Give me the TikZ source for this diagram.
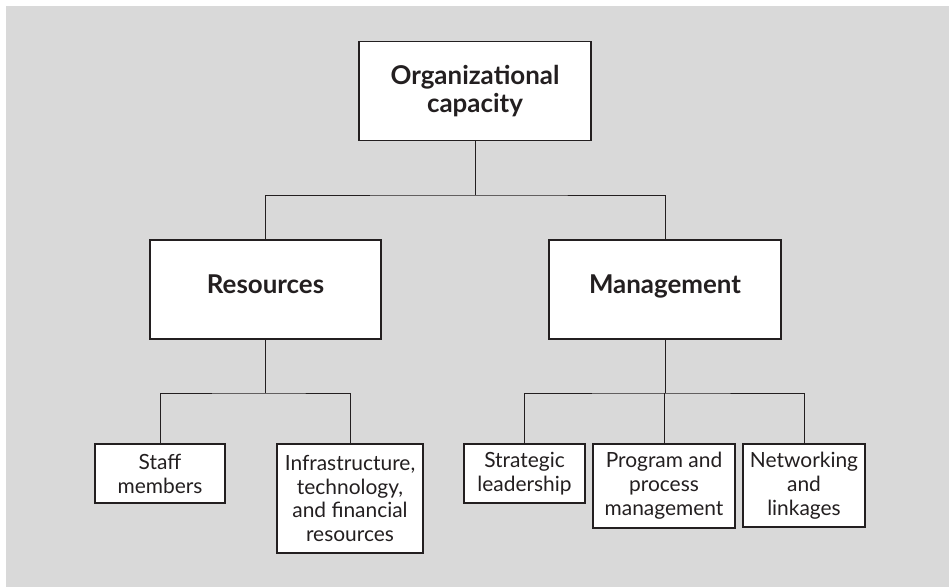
\documentclass[tikz,border=0pt]{standalone}
\usepackage{fontspec}
\setmainfont{Lato}
\definecolor{bggray}{HTML}{D9D9D9}
\definecolor{ink}{HTML}{231F20}

\begin{document}
\begin{tikzpicture}[x=1bp,y=-1bp,
  box/.style={draw=ink, line width=1.2, fill=white, align=center, inner sep=0pt, text=ink},
  headbox/.style={box, font=\fontsize{26}{27.5}\selectfont\bfseries, minimum width=232bp, minimum height=99bp},
  oneline/.style={text height=0.9em, text depth=0.1em},
  leafbox/.style={box, font=\fontsize{21}{24}\selectfont},
  link/.style={draw=ink, line width=1}]
\useasboundingbox (0,0) rectangle (949,587);
\fill[bggray] (6,6) rectangle (949,587);

\node[headbox] (org) at (475,91) {Organizational\\capacity};
\node[headbox, oneline, minimum width=231bp] (res) at (265.5,289.5) {Resources};
\node[headbox, oneline] (mgt) at (665,289.5) {Management};
\node[leafbox, minimum width=130bp, minimum height=59bp] (staff) at (160,473.5) {Staff\\members};
\node[leafbox, minimum width=146bp, minimum height=109bp] (infra) at (350,498.5) {Infrastructure,\\technology,\\and financial\\resources};
\node[leafbox, minimum width=121bp, minimum height=59bp] (lead) at (524.5,473.5) {Strategic\\leadership};
\node[leafbox, minimum width=142bp, minimum height=84bp] (prog) at (664,486) {Program and\\process\\management};
\node[leafbox, minimum width=122bp, minimum height=83bp] (net) at (804,485.5) {Networking\\and\\linkages};

\coordinate (bus1) at (472,195);
\coordinate (bus2) at (262,393);
\coordinate (bus3) at (658,393);
\draw[link] (org.south) -- (org.south |- bus1);
\draw[link] (res.north) |- (bus1) -| (mgt.north);
\draw[link] (res.south) -- (res.south |- bus2);
\draw[link] (staff.north) |- (bus2) -| (infra.north);
\draw[link] (mgt.south) -- (mgt.south |- bus3);
\draw[link] (lead.north) |- (bus3) -| (net.north);
\draw[link] (prog.north) -- (prog.north |- bus3);
\end{tikzpicture}
\end{document}
